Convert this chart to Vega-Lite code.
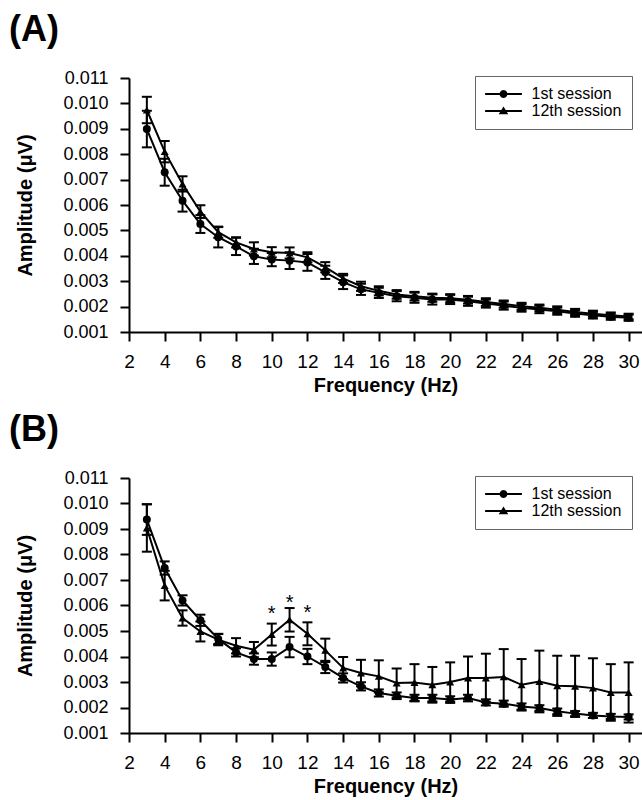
{
  "$schema": "https://vega.github.io/schema/vega-lite/v6.json",
  "background": "white",
  "padding": {"left": 8, "top": 12, "right": 0, "bottom": 1},
  "spacing": 17,
  "config": {
    "view": {"stroke": null},
    "font": "Liberation Sans",
    "axis": {"grid": false, "domainColor": "black", "domainWidth": 2, "tickColor": "black", "tickWidth": 2, "tickSize": 9, "labelColor": "black", "labelFont": "Liberation Sans", "labelFontSize": 18, "labelOverlap": false, "labelFlush": false, "titleColor": "black", "titleFont": "Liberation Sans", "titleFontSize": 20, "titleFontWeight": "bold"},
    "title": {"anchor": "start", "frame": "bounds", "fontSize": 36, "fontWeight": "bold", "color": "black", "font": "Liberation Sans", "offset": 20}
  },
  "datasets": {
    "A": [
      {"s":"1st session","f":3,"m":0.00899,"e":0.00072},{"s":"1st session","f":4,"m":0.00729,"e":0.00053},{"s":"1st session","f":5,"m":0.00617,"e":0.00043},{"s":"1st session","f":6,"m":0.00525,"e":0.00035},{"s":"1st session","f":7,"m":0.00473,"e":0.0004},{"s":"1st session","f":8,"m":0.00437,"e":0.00034},{"s":"1st session","f":9,"m":0.00398,"e":0.0003},{"s":"1st session","f":10,"m":0.00385,"e":0.00026},{"s":"1st session","f":11,"m":0.00381,"e":0.00033},{"s":"1st session","f":12,"m":0.00374,"e":0.00033},{"s":"1st session","f":13,"m":0.00335,"e":0.00026},{"s":"1st session","f":14,"m":0.00296,"e":0.00027},{"s":"1st session","f":15,"m":0.00268,"e":0.00022},{"s":"1st session","f":16,"m":0.00254,"e":0.0002},{"s":"1st session","f":17,"m":0.00241,"e":0.0002},{"s":"1st session","f":18,"m":0.00235,"e":0.0002},{"s":"1st session","f":19,"m":0.00228,"e":0.0002},{"s":"1st session","f":20,"m":0.00228,"e":0.00018},{"s":"1st session","f":21,"m":0.00221,"e":0.00018},{"s":"1st session","f":22,"m":0.00212,"e":0.00016},{"s":"1st session","f":23,"m":0.00204,"e":0.00016},{"s":"1st session","f":24,"m":0.00195,"e":0.00015},{"s":"1st session","f":25,"m":0.00189,"e":0.00015},{"s":"1st session","f":26,"m":0.00182,"e":0.00014},{"s":"1st session","f":27,"m":0.00173,"e":0.00013},{"s":"1st session","f":28,"m":0.00166,"e":0.00013},{"s":"1st session","f":29,"m":0.0016,"e":0.00012},{"s":"1st session","f":30,"m":0.00156,"e":0.00012},
      {"s":"12th session","f":3,"m":0.00974,"e":0.00052},{"s":"12th session","f":4,"m":0.0081,"e":0.00042},{"s":"12th session","f":5,"m":0.00683,"e":0.0003},{"s":"12th session","f":6,"m":0.00574,"e":0.00025},{"s":"12th session","f":7,"m":0.00493,"e":0.00022},{"s":"12th session","f":8,"m":0.00453,"e":0.0002},{"s":"12th session","f":9,"m":0.00427,"e":0.00026},{"s":"12th session","f":10,"m":0.00414,"e":0.0002},{"s":"12th session","f":11,"m":0.00411,"e":0.00022},{"s":"12th session","f":12,"m":0.00394,"e":0.0002},{"s":"12th session","f":13,"m":0.00355,"e":0.0002},{"s":"12th session","f":14,"m":0.00311,"e":0.00018},{"s":"12th session","f":15,"m":0.0028,"e":0.00018},{"s":"12th session","f":16,"m":0.00262,"e":0.00018},{"s":"12th session","f":17,"m":0.00248,"e":0.00017},{"s":"12th session","f":18,"m":0.00241,"e":0.00017},{"s":"12th session","f":19,"m":0.00235,"e":0.00016},{"s":"12th session","f":20,"m":0.00233,"e":0.00016},{"s":"12th session","f":21,"m":0.00227,"e":0.00015},{"s":"12th session","f":22,"m":0.00218,"e":0.00015},{"s":"12th session","f":23,"m":0.0021,"e":0.00014},{"s":"12th session","f":24,"m":0.00201,"e":0.00014},{"s":"12th session","f":25,"m":0.00195,"e":0.00013},{"s":"12th session","f":26,"m":0.00188,"e":0.00013},{"s":"12th session","f":27,"m":0.00179,"e":0.00012},{"s":"12th session","f":28,"m":0.00172,"e":0.00012},{"s":"12th session","f":29,"m":0.00166,"e":0.00011},{"s":"12th session","f":30,"m":0.00161,"e":0.00011}
    ],
    "B": [
      {"s":"1st session","f":3,"m":0.00937,"e":0.0006},{"s":"1st session","f":4,"m":0.00747,"e":0.00026},{"s":"1st session","f":5,"m":0.0062,"e":0.0002},{"s":"1st session","f":6,"m":0.00542,"e":0.00022},{"s":"1st session","f":7,"m":0.00469,"e":0.0002},{"s":"1st session","f":8,"m":0.00416,"e":0.00016},{"s":"1st session","f":9,"m":0.0039,"e":0.00022},{"s":"1st session","f":10,"m":0.0039,"e":0.00026},{"s":"1st session","f":11,"m":0.00437,"e":0.0004},{"s":"1st session","f":12,"m":0.004,"e":0.0003},{"s":"1st session","f":13,"m":0.00359,"e":0.00024},{"s":"1st session","f":14,"m":0.00316,"e":0.00018},{"s":"1st session","f":15,"m":0.00283,"e":0.00016},{"s":"1st session","f":16,"m":0.00257,"e":0.00014},{"s":"1st session","f":17,"m":0.00246,"e":0.00013},{"s":"1st session","f":18,"m":0.00237,"e":0.00013},{"s":"1st session","f":19,"m":0.00237,"e":0.00013},{"s":"1st session","f":20,"m":0.00231,"e":0.00013},{"s":"1st session","f":21,"m":0.00237,"e":0.00013},{"s":"1st session","f":22,"m":0.0022,"e":0.00012},{"s":"1st session","f":23,"m":0.00215,"e":0.00012},{"s":"1st session","f":24,"m":0.00204,"e":0.00012},{"s":"1st session","f":25,"m":0.00198,"e":0.00011},{"s":"1st session","f":26,"m":0.00185,"e":0.00011},{"s":"1st session","f":27,"m":0.00176,"e":0.0001},{"s":"1st session","f":28,"m":0.00169,"e":0.0001},{"s":"1st session","f":29,"m":0.00165,"e":0.0001},{"s":"1st session","f":30,"m":0.00163,"e":0.0001},
      {"s":"12th session","f":3,"m":0.00904,"e":0.00093},{"s":"12th session","f":4,"m":0.00678,"e":0.00058},{"s":"12th session","f":5,"m":0.00551,"e":0.0003},{"s":"12th session","f":6,"m":0.00498,"e":0.00039},{"s":"12th session","f":7,"m":0.00466,"e":0.00022},{"s":"12th session","f":8,"m":0.00442,"e":0.0003},{"s":"12th session","f":9,"m":0.00427,"e":0.0003},{"s":"12th session","f":10,"m":0.00486,"e":0.00043},{"s":"12th session","f":11,"m":0.00544,"e":0.00046},{"s":"12th session","f":12,"m":0.00489,"e":0.00045},{"s":"12th session","f":13,"m":0.00424,"e":0.00046},{"s":"12th session","f":14,"m":0.00355,"e":0.00043},{"s":"12th session","f":15,"m":0.00335,"e":0.00052},{"s":"12th session","f":16,"m":0.00322,"e":0.00063},{"s":"12th session","f":17,"m":0.00296,"e":0.00057},{"s":"12th session","f":18,"m":0.00298,"e":0.00072},{"s":"12th session","f":19,"m":0.00289,"e":0.0007},{"s":"12th session","f":20,"m":0.003,"e":0.00077},{"s":"12th session","f":21,"m":0.00316,"e":0.00084},{"s":"12th session","f":22,"m":0.00316,"e":0.00095},{"s":"12th session","f":23,"m":0.0032,"e":0.00109},{"s":"12th session","f":24,"m":0.00289,"e":0.00101},{"s":"12th session","f":25,"m":0.00302,"e":0.00121},{"s":"12th session","f":26,"m":0.00285,"e":0.00118},{"s":"12th session","f":27,"m":0.00283,"e":0.0012},{"s":"12th session","f":28,"m":0.00276,"e":0.00117},{"s":"12th session","f":29,"m":0.00259,"e":0.00111},{"s":"12th session","f":30,"m":0.00259,"e":0.00118}
    ],
    "stars": [
      {"f":10,"y":0.00577,"t":"*"},{"f":11,"y":0.0062,"t":"*"},{"f":12,"y":0.00583,"t":"*"}
    ]
  },
  "vconcat": [
    {
      "title": {"text": "(A)", "dx": -7},
      "width": 513, "height": 254,
      "data": {"name": "A"},
      "resolve": {"scale": {"shape": "independent"}},
      "layer": [
        {
          "mark": {"type": "errorbar", "color": "black", "ticks": {"size": 10, "thickness": 2, "opacity": 1}, "rule": {"strokeWidth": 2, "opacity": 1}},
          "encoding": {
            "x": {"field": "f", "type": "quantitative", "title": "Frequency (Hz)", "scale": {"domain": [2, 30.75], "nice": false, "zero": false}, "axis": {"values": [2,4,6,8,10,12,14,16,18,20,22,24,26,28,30], "tickCount": 40, "labelOverlap": false, "labelFontSize": 19, "labelPadding": 11, "titlePadding": 4}},
            "y": {"field": "m", "type": "quantitative", "title": "Amplitude (μV)", "scale": {"domain": [0.001, 0.011], "nice": false, "zero": false}, "axis": {"values": [0.001,0.002,0.003,0.004,0.005,0.006,0.007,0.008,0.009,0.01,0.011], "tickCount": 40, "labelOverlap": false, "format": ".3f", "labelPadding": 12, "titlePadding": 27}},
            "yError": {"field": "e"},
            "detail": {"field": "s"}
          }
        },
        {
          "mark": {"type": "line", "color": "black", "strokeWidth": 2},
          "encoding": {
            "x": {"field": "f", "type": "quantitative", "title": "Frequency (Hz)"},
            "y": {"field": "m", "type": "quantitative", "title": "Amplitude (μV)"},
            "detail": {"field": "s"}
          }
        },
        {
          "mark": {"type": "point", "filled": true, "color": "black", "opacity": 1, "size": 64},
          "encoding": {
            "x": {"field": "f", "type": "quantitative", "title": "Frequency (Hz)"},
            "y": {"field": "m", "type": "quantitative", "title": "Amplitude (μV)"},
            "shape": {"field": "s", "type": "nominal", "scale": {"domain": ["1st session", "12th session"], "range": ["circle", "triangle-up"]}, "legend": null}
          }
        },
        {
          "mark": {"type": "point", "filled": true, "color": "black", "opacity": 0, "size": 256},
          "encoding": {
            "x": {"field": "f", "type": "quantitative", "title": "Frequency (Hz)"},
            "y": {"field": "m", "type": "quantitative", "title": "Amplitude (μV)"},
            "shape": {"field": "s", "type": "nominal", "scale": {"domain": ["1st session", "12th session"], "range": ["M-2.3,-0.125L2.3,-0.125L2.3,0.125L-2.3,0.125ZM0.5,0L0.433,0.25L0.25,0.433L0,0.5L-0.25,0.433L-0.433,0.25L-0.5,0L-0.433,-0.25L-0.25,-0.433L0,-0.5L0.25,-0.433L0.433,-0.25Z", "M-2.3,-0.125L2.3,-0.125L2.3,0.125L-2.3,0.125ZM0,-0.55L0.6,0.4L-0.6,0.4Z"]},
              "legend": {"title": null, "orient": "none", "legendX": 346, "legendY": -2, "strokeColor": "#666", "padding": 10, "labelFont": "Liberation Sans", "labelFontSize": 16, "labelColor": "black", "symbolSize": 256, "symbolOffset": 10.5, "labelOffset": 20, "rowPadding": 1, "symbolStrokeWidth": 0, "symbolFillColor": "black", "symbolOpacity": 1}}
          }
        }
      ]
    },
    {
      "title": {"text": "(B)", "dx": -7},
      "width": 513, "height": 255,
      "resolve": {"scale": {"shape": "independent"}},
      "layer": [
        {
          "data": {"name": "B"},
          "mark": {"type": "errorbar", "color": "black", "ticks": {"size": 10, "thickness": 2, "opacity": 1}, "rule": {"strokeWidth": 2, "opacity": 1}},
          "encoding": {
            "x": {"field": "f", "type": "quantitative", "title": "Frequency (Hz)", "scale": {"domain": [2, 30.75], "nice": false, "zero": false}, "axis": {"values": [2,4,6,8,10,12,14,16,18,20,22,24,26,28,30], "tickCount": 40, "labelOverlap": false, "labelFontSize": 19, "labelPadding": 11, "titlePadding": 4}},
            "y": {"field": "m", "type": "quantitative", "title": "Amplitude (μV)", "scale": {"domain": [0.001, 0.011], "nice": false, "zero": false}, "axis": {"values": [0.001,0.002,0.003,0.004,0.005,0.006,0.007,0.008,0.009,0.01,0.011], "tickCount": 40, "labelOverlap": false, "format": ".3f", "labelPadding": 12, "titlePadding": 27}},
            "yError": {"field": "e"},
            "detail": {"field": "s"}
          }
        },
        {
          "data": {"name": "B"},
          "mark": {"type": "line", "color": "black", "strokeWidth": 2},
          "encoding": {
            "x": {"field": "f", "type": "quantitative", "title": "Frequency (Hz)"},
            "y": {"field": "m", "type": "quantitative", "title": "Amplitude (μV)"},
            "detail": {"field": "s"}
          }
        },
        {
          "data": {"name": "B"},
          "mark": {"type": "point", "filled": true, "color": "black", "opacity": 1, "size": 64},
          "encoding": {
            "x": {"field": "f", "type": "quantitative", "title": "Frequency (Hz)"},
            "y": {"field": "m", "type": "quantitative", "title": "Amplitude (μV)"},
            "shape": {"field": "s", "type": "nominal", "scale": {"domain": ["1st session", "12th session"], "range": ["circle", "triangle-up"]}, "legend": null}
          }
        },
        {
          "data": {"name": "B"},
          "mark": {"type": "point", "filled": true, "color": "black", "opacity": 0, "size": 256},
          "encoding": {
            "x": {"field": "f", "type": "quantitative", "title": "Frequency (Hz)"},
            "y": {"field": "m", "type": "quantitative", "title": "Amplitude (μV)"},
            "shape": {"field": "s", "type": "nominal", "scale": {"domain": ["1st session", "12th session"], "range": ["M-2.3,-0.125L2.3,-0.125L2.3,0.125L-2.3,0.125ZM0.5,0L0.433,0.25L0.25,0.433L0,0.5L-0.25,0.433L-0.433,0.25L-0.5,0L-0.433,-0.25L-0.25,-0.433L0,-0.5L0.25,-0.433L0.433,-0.25Z", "M-2.3,-0.125L2.3,-0.125L2.3,0.125L-2.3,0.125ZM0,-0.55L0.6,0.4L-0.6,0.4Z"]},
              "legend": {"title": null, "orient": "none", "legendX": 346, "legendY": -2, "strokeColor": "#666", "padding": 10, "labelFont": "Liberation Sans", "labelFontSize": 16, "labelColor": "black", "symbolSize": 256, "symbolOffset": 10.5, "labelOffset": 20, "rowPadding": 1, "symbolStrokeWidth": 0, "symbolFillColor": "black", "symbolOpacity": 1}}
          }
        },
        {
          "data": {"name": "stars"},
          "mark": {"type": "text", "color": "black", "fontSize": 20, "font": "Liberation Sans", "baseline": "middle", "dy": 3},
          "encoding": {
            "x": {"field": "f", "type": "quantitative"},
            "y": {"field": "y", "type": "quantitative"},
            "text": {"field": "t"}
          }
        }
      ]
    }
  ]
}
